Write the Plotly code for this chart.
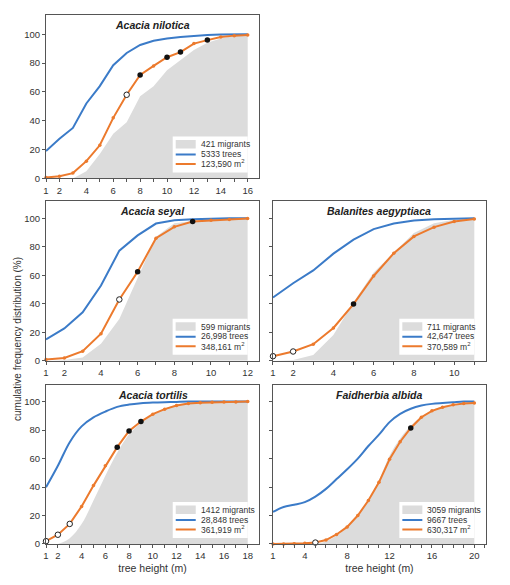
import plotly.graph_objects as go

# ---------------- data ----------------
species = ["Acacia nilotica", "Acacia seyal", "Balanites aegyptiaca", "Acacia tortilis", "Faidherbia albida"]
mig_labels = ["421 migrants", "599 migrants", "711 migrants", "1412 migrants", "3059 migrants"]
tree_labels = ["5333 trees", "26,998 trees", "42,647 trees", "28,848 trees", "9667 trees"]
area_labels = ["123,590 m<sup>2</sup>", "348,161 m<sup>2</sup>", "370,589 m<sup>2</sup>",
               "361,919 m<sup>2</sup>", "630,317 m<sup>2</sup>"]

# Acacia nilotica
h1 = list(range(1, 17))
mig1 = [0, 0, 0, 5, 17, 31, 39, 57, 64, 75, 82, 89, 94, 97, 99, 100]
tree1 = [19, 27.5, 35, 52, 64, 78.5, 87, 92.5, 95.4, 97, 98, 99, 99.5, 99.8, 100, 100]
area1 = [0.6, 1.6, 3.7, 12, 23, 42, 58, 71.7, 78, 84, 87.6, 93.5, 95.9, 98, 99, 99.5]
open1 = [7]
black1 = [8, 10, 11, 13]
ticks1 = [1, 2, 4, 6, 8, 10, 12, 14, 16]

# Acacia seyal
h2 = list(range(1, 13))
mig2 = [0, 0.5, 2.3, 12, 29.4, 58, 87, 96.5, 98, 99.5, 100, 100]
tree2 = [15, 22.7, 34, 52.8, 77.3, 88, 96.3, 98.6, 99.3, 99.8, 100, 100]
area2 = [0.8, 2, 6.7, 19, 43, 62.5, 86, 94, 97.7, 98.6, 99.1, 99.8]
open2 = [5]
black2 = [6, 9]
ticks2 = [1, 2, 4, 6, 8, 10, 12]

# Balanites aegyptiaca
h3 = list(range(1, 12))
mig3 = [0, 0.5, 4, 18, 41, 62, 76, 89.6, 96.5, 99, 100]
tree3 = [44.4, 54.4, 63.4, 75.2, 85, 92.4, 96.3, 98.4, 99.3, 99.8, 100]
area3 = [3.2, 6.5, 11.6, 23, 39.8, 59.5, 75.5, 87.3, 93.8, 97.7, 99.5]
open3 = [1, 2]
black3 = [5]
ticks3 = [1, 2, 4, 6, 8, 10]

# Acacia tortilis
h4 = list(range(1, 19))
mig4 = [0, 0, 4, 14, 30.5, 48, 64, 77, 85, 91, 95, 97.7, 99, 99.7, 100, 100, 100, 100]
tree4 = [39.8, 54.9, 71.5, 82.6, 88.9, 93, 96.3, 97.9, 98.8, 99.3, 99.6, 99.8, 100, 100, 100, 100, 100, 100]
area4 = [2, 6.5, 14.1, 26.4, 41, 54.9, 68, 79.4, 86, 91.2, 94.7, 97.2, 98.6, 99.2, 99.5, 99.7, 99.8, 100]
open4 = [1, 2, 3]
black4 = [7, 8, 9]
ticks4 = [1, 2, 4, 6, 8, 10, 12, 14, 16, 18]

# Faidherbia albida
h5 = list(range(1, 21))
mig5 = [0, 0, 0, 0, 0, 2, 6, 12, 20, 31, 45, 62, 74, 83, 89.5, 94, 96.5, 98, 99, 100]
tree5 = [22.5, 26, 27.5, 29.4, 33.3, 38.7, 45.6, 52.5, 60, 68.8, 76.8, 85.6, 91.4, 95, 97.2, 98.4, 99, 99.5, 100, 100]
area5 = [0, 0, 0.2, 0.5, 1, 2.8, 6.7, 12, 20, 30.5, 43.3, 59.5, 71.8, 81.5, 89, 93.5, 96, 97.7, 98.6, 99]
open5 = [5]
black5 = [14]
ticks5 = [1, 4, 8, 12, 16, 20]

panels = [
    (h1, mig1, tree1, area1, open1, black1, ticks1),
    (h2, mig2, tree2, area2, open2, black2, ticks2),
    (h3, mig3, tree3, area3, open3, black3, ticks3),
    (h4, mig4, tree4, area4, open4, black4, ticks4),
    (h5, mig5, tree5, area5, open5, black5, ticks5),
]

# ---------------- styling ----------------
BLUE = "#3b7bc8"
ORANGE = "#ec7a2d"
GRAY = "#dcdcdc"
FRAME = "#555555"
TXT = "#333333"
FONT = "Liberation Sans, Arial, sans-serif"

xdom_left = [0, 0.4841]
xdom_right = [0.5159, 1]
ydoms = [[0.691, 1], [0.3464, 0.648], [0.3464, 0.648], [0, 0.3015], [0, 0.3015]]
xdoms = [xdom_left, xdom_left, xdom_right, xdom_left, xdom_right]
xmax_range = [16.84, 12.62, 11.58, 18.95, 21.1]
ytop = [113.3, 112, 112, 112, 112]
smooth = [False, False, False, True, True]

fig = go.Figure()
shapes = []
annotations = []

for i, (h, mig, tree, area, opn, blk, tks) in enumerate(panels):
    k = i + 1
    xa = "x" if k == 1 else f"x{k}"
    ya = "y" if k == 1 else f"y{k}"
    shape = "spline" if smooth[i] else "linear"
    fig.add_trace(go.Scatter(x=h, y=mig, mode="lines", fill="tozeroy", fillcolor=GRAY,
                             line=dict(width=0, shape=shape), xaxis=xa, yaxis=ya, showlegend=False,
                             hoverinfo="skip"))
    fig.add_trace(go.Scatter(x=h, y=tree, mode="lines", line=dict(color=BLUE, width=2, shape=shape),
                             xaxis=xa, yaxis=ya, showlegend=False))
    fig.add_trace(go.Scatter(x=h, y=area, mode="lines+markers",
                             line=dict(color=ORANGE, width=2),
                             marker=dict(color=ORANGE, size=3.5),
                             xaxis=xa, yaxis=ya, showlegend=False, cliponaxis=False))
    fig.add_trace(go.Scatter(x=opn, y=[area[h.index(v)] for v in opn], mode="markers",
                             marker=dict(color="white", size=5.5, line=dict(color="#222", width=1)),
                             xaxis=xa, yaxis=ya, showlegend=False, cliponaxis=False))
    fig.add_trace(go.Scatter(x=blk, y=[area[h.index(v)] for v in blk], mode="markers",
                             marker=dict(color="#111", size=5.5),
                             xaxis=xa, yaxis=ya, showlegend=False, cliponaxis=False))

    xmax = h[-1]
    xkey = "xaxis" if k == 1 else f"xaxis{k}"
    ykey = "yaxis" if k == 1 else f"yaxis{k}"
    fig.layout[xkey] = dict(
        domain=xdoms[i], anchor=ya, range=[1, xmax_range[i]],
        tickmode="array", tickvals=tks,
        ticks="outside", ticklen=3, tickcolor=FRAME, showline=True, linecolor=FRAME,
        minor=dict(tickmode="linear", tick0=1, dtick=1, ticks="outside", ticklen=3, tickcolor=FRAME),
        linewidth=1, mirror=True, showgrid=False, zeroline=False,
        tickfont=dict(size=9.5, color=TXT, family=FONT),
    )
    if k in (4, 5):
        fig.layout[xkey].title = dict(text="tree height (m)", font=dict(size=10.5, color=TXT, family=FONT),
                                      standoff=4)
    fig.layout[ykey] = dict(
        domain=ydoms[i], anchor=xa, range=[0, ytop[i]],
        tickvals=[0, 20, 40, 60, 80, 100], showticklabels=(k in (1, 2, 4)),
        ticks="outside", ticklen=3, tickcolor=FRAME, showline=True, linecolor=FRAME,
        linewidth=1, mirror=True, showgrid=False, zeroline=False,
        tickfont=dict(size=9.5, color=TXT, family=FONT),
    )

    annotations.append(dict(text=f"<b><i>{species[i]}</i></b>", xref=f"{xa} domain", yref=f"{ya} domain",
                            x=0.5, y=1, xanchor="center", yanchor="top", yshift=-2, showarrow=False,
                            font=dict(size=10.5, color="#222", family=FONT)))

    # legend box drawn in pixel offsets from (xmax, 0)
    shapes.append(dict(type="rect", xref=xa, yref=ya, xsizemode="pixel", ysizemode="pixel",
                       xanchor=xmax, yanchor=0, x0=-75, x1=0, y0=6, y1=42,
                       fillcolor="white", line=dict(width=0), layer="above"))
    shapes.append(dict(type="rect", xref=xa, yref=ya, xsizemode="pixel", ysizemode="pixel",
                       xanchor=xmax, yanchor=0, x0=-72, x1=-52, y0=30, y1=38.5,
                       fillcolor=GRAY, line=dict(width=0), layer="above"))
    shapes.append(dict(type="line", xref=xa, yref=ya, xsizemode="pixel", ysizemode="pixel",
                       xanchor=xmax, yanchor=0, x0=-72, x1=-52, y0=24, y1=24,
                       line=dict(color=BLUE, width=2), layer="above"))
    shapes.append(dict(type="line", xref=xa, yref=ya, xsizemode="pixel", ysizemode="pixel",
                       xanchor=xmax, yanchor=0, x0=-72, x1=-52, y0=14.5, y1=14.5,
                       line=dict(color=ORANGE, width=2), layer="above"))
    for txt, dy in ((mig_labels[i], 34), (tree_labels[i], 24.3), (area_labels[i], 14.7)):
        annotations.append(dict(text=txt, xref=xa, yref=ya, x=xmax, y=0, xshift=-49, yshift=dy,
                                xanchor="left", yanchor="middle", showarrow=False,
                                font=dict(size=8.5, color=TXT, family=FONT)))

annotations.append(dict(text="cumulative frequency distribution (%)", xref="paper", yref="paper",
                        x=(18 - 46) / 440, y=(549 - 342) / 534, xanchor="center", yanchor="middle",
                        textangle=-90, showarrow=False, font=dict(size=10, color=TXT, family=FONT)))

fig.update_layout(
    width=510, height=585,
    margin=dict(l=46, r=24, t=15, b=36),
    paper_bgcolor="white", plot_bgcolor="white",
    shapes=shapes, annotations=annotations,
    font=dict(family=FONT, color=TXT),
    showlegend=False,
)

fig.write_html("out.html", config={"displayModeBar": False},
               post_script="document.body.style.margin='0';")
